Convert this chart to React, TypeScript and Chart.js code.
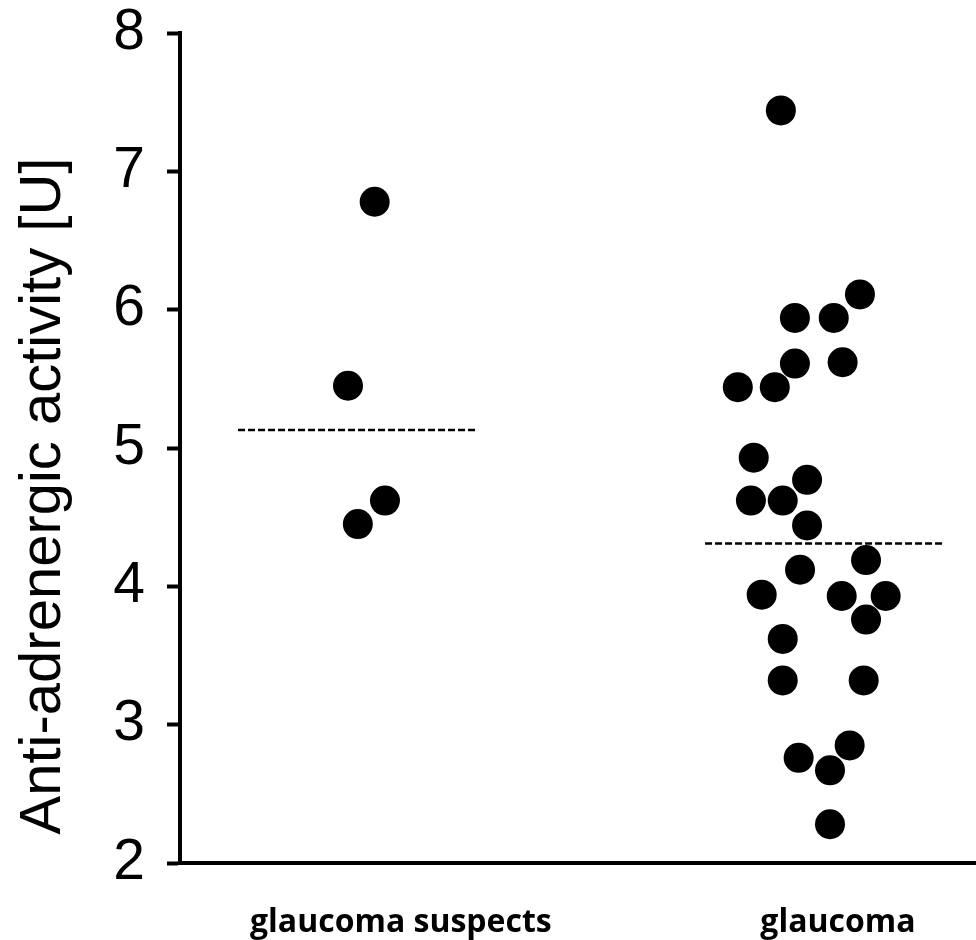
import React, { useEffect, useRef } from "react";
import { Chart, registerables } from "chart.js";

Chart.register(...registerables);

// ---- data ----
const groupLabels = ["glaucoma suspects", "glaucoma"];
const labelPositions = [1.094, 2.028];

const suspectsY = [6.78, 5.45, 4.62, 4.45];
const suspectsX = [1.038, 0.981, 1.06, 1.002];

const glaucomaY = [
  7.44, 6.11, 5.94, 5.94, 5.61, 5.62, 5.44, 5.44, 4.93, 4.77, 4.62, 4.62, 4.44,
  4.19, 4.12, 3.94, 3.93, 3.93, 3.76, 3.62, 3.32, 3.32, 2.85, 2.76, 2.67, 2.28,
];
const glaucomaX = [
  1.906, 2.075, 1.936, 2.019, 1.936, 2.038, 1.814, 1.893, 1.848, 1.962, 1.842,
  1.91, 1.962, 2.088, 1.947, 1.865, 2.036, 2.13, 2.088, 1.91, 1.91, 2.083,
  2.053, 1.944, 2.011, 2.011,
];

const lineValues = [5.13, 4.31];
const lineStart = [0.746, 1.744];
const lineEnd = [1.259, 2.256];

const yMin = 2;
const yMax = 8;
const xMin = 0.622;
const xMax = 2.323;
const yTitle = "Anti-adrenergic activity [U]";

const yTitlePlugin = {
  id: "yTitleDraw",
  afterDraw(chart: any) {
    const { ctx, chartArea } = chart;
    ctx.save();
    ctx.font = '58px "Liberation Sans", Arial, sans-serif';
    ctx.fillStyle = "#000";
    ctx.textAlign = "center";
    ctx.textBaseline = "alphabetic";
    ctx.translate(chartArea.left - 120, chartArea.bottom - 367);
    ctx.rotate(-Math.PI / 2);
    ctx.fillText(yTitle, 0, 0);
    ctx.restore();
  },
};

export default function App() {
  const ref = useRef<HTMLCanvasElement | null>(null);

  useEffect(() => {
    if (!ref.current) return;
    const pts = (xs: number[], ys: number[]) =>
      ys.map((y, i) => ({ x: xs[i], y }));

    const lineSets = lineValues.map((v, i) => ({
      type: "line" as const,
      data: [
        { x: lineStart[i], y: v },
        { x: lineEnd[i], y: v },
      ],
      borderColor: "#000",
      borderWidth: 2.5,
      borderDash: [7, 3],
      pointRadius: 0,
      fill: false,
      order: 0,
    }));

    const chart = new Chart(ref.current, {
      type: "scatter",
      data: {
        datasets: [
          {
            label: groupLabels[0],
            data: pts(suspectsX, suspectsY),
            backgroundColor: "#000",
            borderColor: "#000",
            borderWidth: 0,
            pointRadius: 15,
            order: 1,
          },
          {
            label: groupLabels[1],
            data: pts(glaucomaX, glaucomaY),
            backgroundColor: "#000",
            borderColor: "#000",
            borderWidth: 0,
            pointRadius: 15,
            order: 1,
          },
          ...lineSets,
        ] as any,
      },
      options: {
        animation: false,
        responsive: false,
        devicePixelRatio: 1,
        layout: { autoPadding: false, padding: { top: 33, right: 0, left: 0, bottom: 0 } },
        plugins: {
          legend: { display: false },
          tooltip: { enabled: false },
        },
        scales: {
          x: {
            type: "linear",
            min: xMin,
            max: xMax,
            afterBuildTicks: (axis: any) => {
              axis.ticks = labelPositions.map((v) => ({ value: v }));
            },
            afterFit: (axis: any) => {
              axis.height = 77;
              axis.paddingLeft = 0;
              axis.paddingRight = 0;
            },
            grid: { display: true, drawOnChartArea: false, drawTicks: false },
            border: { display: true, color: "#000", width: 4 },
            ticks: {
              padding: 41,
              color: "#000",
              maxRotation: 0,
              autoSkip: false,
              font: { family: '"Open Sans", sans-serif', size: 32, weight: "bold", lineHeight: 1.2 },
              callback: (value: any) => {
                const idx = labelPositions.indexOf(Number(value));
                return idx >= 0 ? groupLabels[idx] : "";
              },
            },
          },
          y: {
            type: "linear",
            min: yMin,
            max: yMax,
            afterFit: (axis: any) => {
              axis.width = 180;
              axis.paddingTop = 0;
              axis.paddingBottom = 0;
            },
            grid: {
              display: true,
              drawOnChartArea: false,
              drawTicks: true,
              tickLength: 13,
              tickWidth: 4,
              tickColor: "#000",
            },
            border: { display: true, color: "#000", width: 4 },
            ticks: {
              stepSize: 1,
              padding: 22,
              color: "#000",
              font: { family: '"Liberation Sans", Arial, sans-serif', size: 57, lineHeight: 1.0 },
            },
          },
        },
      },
      plugins: [yTitlePlugin],
    });
    return () => chart.destroy();
  }, []);

  return (
    <div style={{ position: "fixed", left: 0, top: 0, width: 976, height: 940, background: "#fff" }}>
      <canvas ref={ref} width={976} height={940} />
    </div>
  );
}
